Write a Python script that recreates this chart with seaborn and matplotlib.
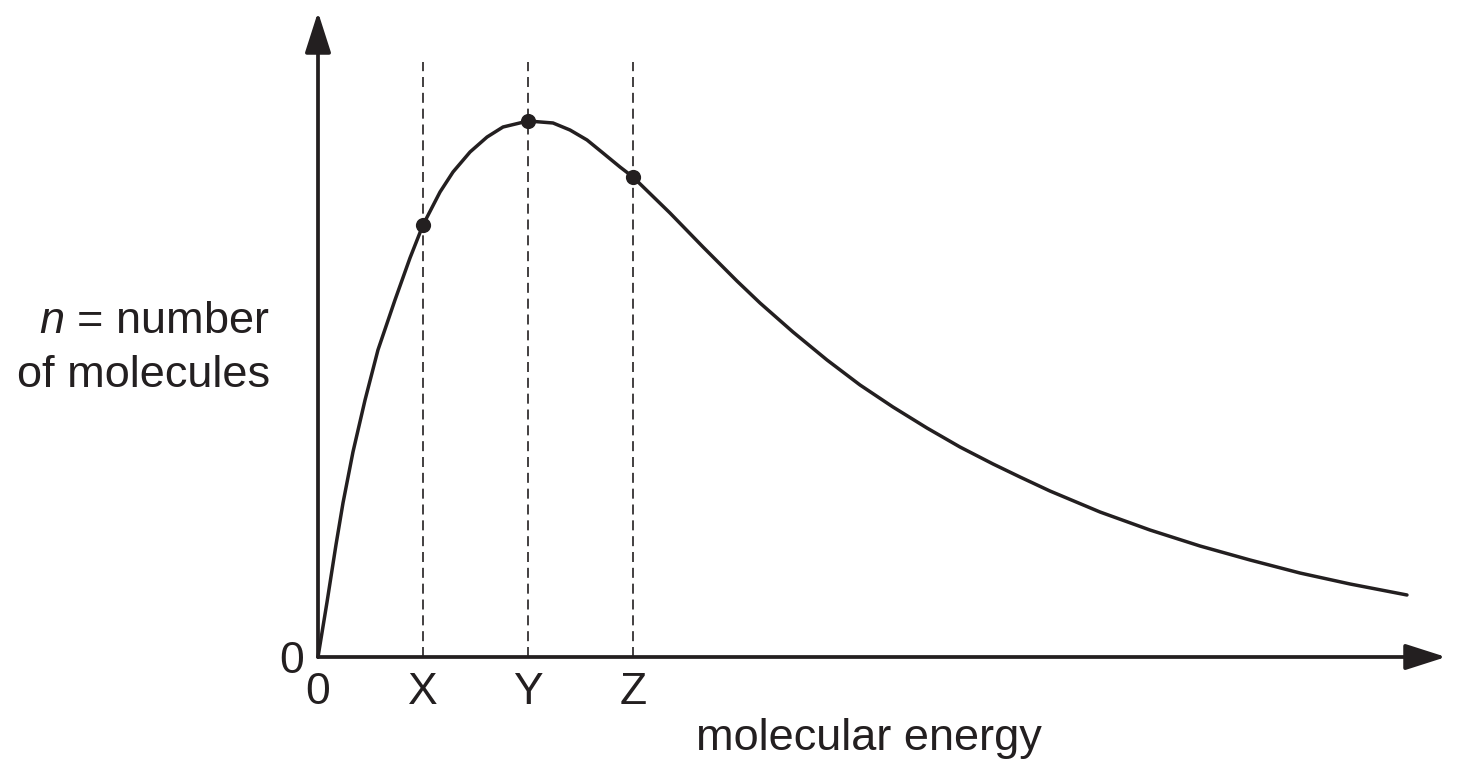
import numpy as np
import pandas as pd
import seaborn as sns
import matplotlib
matplotlib.use("Agg")
from matplotlib import pyplot as plt
from matplotlib.patches import ArrowStyle

# curve (energy in units of X, n scaled so the peak is 100)
energy = [0.0, 0.086, 0.171, 0.238, 0.333, 0.448, 0.571, 0.733, 0.876,
          1.0, 1.162, 1.286, 1.448, 1.610, 1.762, 2.0, 2.238, 2.4, 2.562,
          2.714, 2.876, 3.0, 3.352, 3.667, 3.990, 4.210, 4.524, 4.848,
          5.162, 5.476, 5.800, 6.114, 6.429, 6.686, 6.971, 7.448, 7.924,
          8.4, 8.876, 9.352, 9.829, 10.371]
count = [0.0, 10.26, 20.90, 28.73, 38.25, 47.95, 57.28, 66.60, 74.44,
         80.60, 86.75, 90.49, 94.22, 97.01, 98.88, 100.0, 99.63, 98.32, 96.46,
         94.03, 91.42, 89.55, 82.84, 76.49, 70.15, 66.04, 60.63, 55.41,
         50.75, 46.64, 42.72, 39.18, 36.01, 33.58, 30.97, 27.05, 23.69,
         20.71, 18.10, 15.67, 13.62, 11.57]

mark_energy = [1, 2, 3]
mark_count = [80.6, 100.0, 89.55]
tick_pos = [0, 1, 2, 3]
tick_labels = ['0', 'X', 'Y', 'Z']

ink = '#231f20'

sns.set_style('white')
plt.rcParams['font.family'] = ['Liberation Sans', 'DejaVu Sans']
plt.rcParams['mathtext.fontset'] = 'custom'
plt.rcParams['mathtext.rm'] = 'Liberation Sans'
plt.rcParams['mathtext.it'] = 'Liberation Sans:italic'

W, H = 1457, 768
fig = plt.figure(figsize=(W / 100, H / 100), dpi=100)
ox, oy = 318, 657          # origin in pixels
x_end, y_end = 1446, 12    # arrow tips
ax = fig.add_axes([ox / W, (H - oy) / H, (x_end - ox) / W, (oy - y_end) / H])

df = pd.DataFrame({'energy': energy, 'n': count})
sns.lineplot(data=df, x='energy', y='n', ax=ax, color=ink, lw=2.5,
             sort=False, clip_on=False, solid_joinstyle='round')
sns.scatterplot(x=mark_energy, y=mark_count, ax=ax, color=ink, s=120,
                edgecolor=ink, linewidth=0, zorder=5, clip_on=False)
ax.vlines(mark_energy, 0, 111, colors=ink, lw=1.2,
          linestyles=[(0, (6, 3.5))])

ax.set_xlim(0, (x_end - ox) / 105)
ax.set_ylim(0, (oy - y_end) / 5.36)
for s in ax.spines.values():
    s.set_visible(False)

# axes with arrow heads
style = ArrowStyle('-|>', head_length=2.5, head_width=0.8)
for tip in [(1, 0), (0, 1)]:
    ax.annotate('', xy=tip, xytext=(0, 0), xycoords='axes fraction',
                arrowprops=dict(arrowstyle=style, mutation_scale=10,
                                lw=2.7, color=ink, shrinkA=0, shrinkB=0))

ax.set_xticks(tick_pos, labels=tick_labels)
ax.set_yticks([0], labels=['0'])
ax.tick_params(axis='x', length=0, pad=11, labelsize=32, labelcolor=ink)
ax.tick_params(axis='y', length=0, pad=10, labelsize=32, labelcolor=ink)
ax.set_xlabel('')
ax.set_ylabel('')

fs = 32.5
ax.text((869 - ox) / (x_end - ox), (oy - 750) / (oy - y_end), 'molecular energy',
        transform=ax.transAxes, ha='center', va='baseline', fontsize=fs, color=ink)
ax.text((270 - ox) / (x_end - ox), (oy - 333) / (oy - y_end), r'$n$ = number',
        transform=ax.transAxes, ha='right', va='baseline', fontsize=fs, color=ink)
ax.text((270 - ox) / (x_end - ox), (oy - 387) / (oy - y_end), 'of molecules',
        transform=ax.transAxes, ha='right', va='baseline', fontsize=fs, color=ink)

fig.savefig('out.png', dpi=100)
